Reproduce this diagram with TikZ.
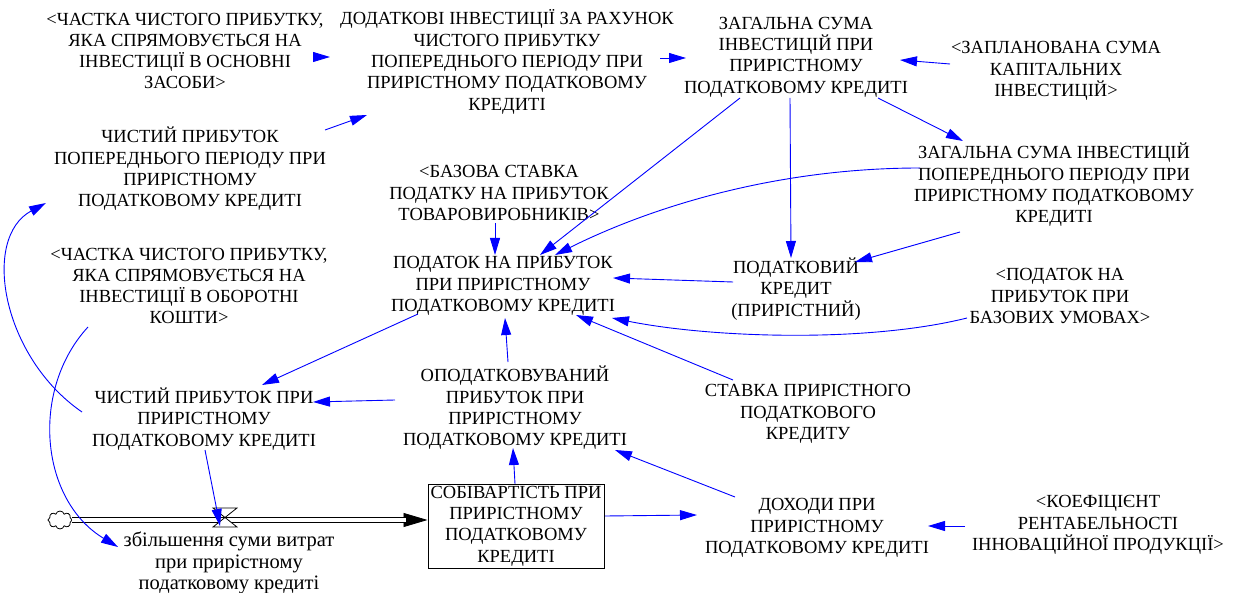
\documentclass[tikz,border=0pt]{standalone}
\usepackage{fontspec}
\setmainfont{Liberation Serif}
\newfontfamily\vensimfont{Liberation Serif}
\usepackage{tikz}
\usetikzlibrary{arrows.meta,shapes.symbols}

\begin{document}
\begin{tikzpicture}[x=1pt,y=-1pt,
  var/.style={align=center,inner sep=1pt,font=\vensimfont\fontsize{18.5}{21.3}\selectfont},
  link/.style={draw=blue,line width=0.9pt,-{Triangle[length=17pt,width=10pt]}},
  pipe/.style={double,double distance=3.5pt,line width=1pt}]
\useasboundingbox[fill=white] (0,0) rectangle (1239,593);

\node[var] (chastka_os) at (185,51) {<ЧАСТКА ЧИСТОГО ПРИБУТКУ,\\ЯКА СПРЯМОВУЄТЬСЯ НА\\ІНВЕСТИЦІЇ В ОСНОВНІ\\ЗАСОБИ>};
\node[var] (dodatkovi) at (507,62) {ДОДАТКОВІ ІНВЕСТИЦІЇ ЗА РАХУНОК\\ЧИСТОГО ПРИБУТКУ\\ПОПЕРЕДНЬОГО ПЕРІОДУ ПРИ\\ПРИРІСТНОМУ ПОДАТКОВОМУ\\КРЕДИТІ};
\node[var] (zahalna) at (796,57) {ЗАГАЛЬНА СУМА\\ІНВЕСТИЦІЙ ПРИ\\ПРИРІСТНОМУ\\ПОДАТКОВОМУ КРЕДИТІ};
\node[var] (zaplan) at (1056,71) {<ЗАПЛАНОВАНА СУМА\\КАПІТАЛЬНИХ\\ІНВЕСТИЦІЙ>};
\node[var] (chystyi_pop) at (190,169) {ЧИСТИЙ ПРИБУТОК\\ПОПЕРЕДНЬОГО ПЕРІОДУ ПРИ\\ПРИРІСТНОМУ\\ПОДАТКОВОМУ КРЕДИТІ};
\node[var] (zahalna_pop) at (1054,185) {ЗАГАЛЬНА СУМА ІНВЕСТИЦІЙ\\ПОПЕРЕДНЬОГО ПЕРІОДУ ПРИ\\ПРИРІСТНОМУ ПОДАТКОВОМУ\\КРЕДИТІ};
\node[var] (bazova) at (499,193) {<БАЗОВА СТАВКА\\ПОДАТКУ НА ПРИБУТОК\\ТОВАРОВИРОБНИКІВ>};
\node[var] (podatok) at (503,286) {ПОДАТОК НА ПРИБУТОК\\ПРИ ПРИРІСТНОМУ\\ПОДАТКОВОМУ КРЕДИТІ};
\node[var] (kredyt) at (796,289) {ПОДАТКОВИЙ\\КРЕДИТ\\(ПРИРІСТНИЙ)};
\node[var] (podatok_baz) at (1060,296) {<ПОДАТОК НА\\ПРИБУТОК ПРИ\\БАЗОВИХ УМОВАХ>};
\node[var] (chastka_ob) at (189,286) {<ЧАСТКА ЧИСТОГО ПРИБУТКУ,\\ЯКА СПРЯМОВУЄТЬСЯ НА\\ІНВЕСТИЦІЇ В ОБОРОТНІ\\КОШТИ>};
\node[var] (opodatk) at (515,408) {ОПОДАТКОВУВАНИЙ\\ПРИБУТОК ПРИ\\ПРИРІСТНОМУ\\ПОДАТКОВОМУ КРЕДИТІ};
\node[var] (stavka) at (808,414) {СТАВКА ПРИРІСТНОГО\\ПОДАТКОВОГО\\КРЕДИТУ};
\node[var] (chystyi) at (204,419) {ЧИСТИЙ ПРИБУТОК ПРИ\\ПРИРІСТНОМУ\\ПОДАТКОВОМУ КРЕДИТІ};
\node[var,draw,line width=1pt,minimum width=176pt,minimum height=84pt] (stock) at (516,526) {СОБІВАРТІСТЬ ПРИ\\ПРИРІСТНОМУ\\ПОДАТКОВОМУ\\КРЕДИТІ};
\node[var] (dokhody) at (817,528) {ДОХОДИ ПРИ\\ПРИРІСТНОМУ\\ПОДАТКОВОМУ КРЕДИТІ};
\node[var] (koef) at (1098,525) {<КОЕФІЦІЄНТ\\РЕНТАБЕЛЬНОСТІ\\ІННОВАЦІЙНОЇ ПРОДУКЦІЇ>};

\node[cloud,draw,cloud puffs=8,aspect=1.3,minimum width=24pt,minimum height=18pt,inner sep=0pt,line width=0.8pt] (cloud) at (60,520) {};
\node[coordinate] (valve) at (225,518) {};
\node[var,font=\vensimfont\fontsize{20.5}{21.5}\selectfont] (flow) at (229,563) {збільшення суми витрат\\при прирістному\\податковому кредиті};

\draw[line width=0.8pt,-{Triangle[length=24pt,width=14pt]}] (cloud.east) -- (cloud.east -| stock.west);
\draw[pipe,shorten >=22pt] (cloud.east) -- (cloud.east -| stock.west);
\draw[line width=0.8pt,fill=white] ([shift={(-12,-10)}]valve) -- ([shift={(12,-10)}]valve) -- ([shift={(-12,9)}]valve) -- ([shift={(12,9)}]valve) -- cycle;

\draw[link] ([shift={(128,6)}]chastka_os.center) -- ([shift={(-177,-5)}]dodatkovi.center);
\draw[link] ([shift={(135,-39)}]chystyi_pop.center) -- ([shift={(-140,53)}]dodatkovi.center);
\draw[link] ([shift={(153,-4)}]dodatkovi.center) -- ([shift={(-110,1)}]zahalna.center);
\draw[link] ([shift={(-106,-7)}]zaplan.center) -- ([shift={(104,3)}]zahalna.center);
\draw[link] ([shift={(82,41)}]zahalna.center) -- ([shift={(-91,-44)}]zahalna_pop.center);
\draw[link] ([shift={(-56,41)}]zahalna.center) -- ([shift={(37,-31)}]podatok.center);
\draw[link] ([shift={(-6,41)}]zahalna.center) -- ([shift={(-5,-31)}]kredyt.center);
\draw[link] ([shift={(-134,-17)}]zahalna_pop.center) .. controls +(-150,0) and +(90,-45) .. ([shift={(52,-31)}]podatok.center);
\draw[link] ([shift={(-94,47)}]zahalna_pop.center) -- ([shift={(59,-27)}]kredyt.center);
\draw[link] ([shift={(-63,-7)}]kredyt.center) -- ([shift={(110,-8)}]podatok.center);
\draw[link] ([shift={(-93,22)}]podatok_baz.center) .. controls +(-100,25) and +(100,20) .. ([shift={(109,32)}]podatok.center);
\draw[link] ([shift={(-75,-34)}]stavka.center) -- ([shift={(73,29)}]podatok.center);
\draw[link] ([shift={(-4,30)}]bazova.center) -- ([shift={(-8,-31)}]podatok.center);
\draw[link] ([shift={(-7,-46)}]opodatk.center) -- ([shift={(2,32)}]podatok.center);
\draw[link] ([shift={(-85,28)}]podatok.center) -- ([shift={(58,-34)}]chystyi.center);
\draw[link] ([shift={(-120,-8)}]opodatk.center) -- ([shift={(109,-17)}]chystyi.center);
\draw[link] ([shift={(-122,-7)}]chystyi.center) .. controls +(-80,-55) and +(-65,35) .. ([shift={(-144,34)}]chystyi_pop.center);
\draw[link] ([shift={(-101,41)}]chastka_ob.center) .. controls +(-58,63) and +(-78,-47) .. ([shift={(-111,-16)}]flow.center);
\draw[link] ([shift={(1,31)}]chystyi.center) -- ([shift={(-5,8)}]valve);
\draw[link] ([shift={(-1,-42)}]stock.center) -- ([shift={(-2,40)}]opodatk.center);
\draw[link] ([shift={(89,-10)}]stock.center) -- ([shift={(-120,-13)}]dokhody.center);
\draw[link] ([shift={(-82,-31)}]dokhody.center) -- ([shift={(100,42)}]opodatk.center);
\draw[link] ([shift={(-133,1)}]koef.center) -- ([shift={(111,-2)}]dokhody.center);
\end{tikzpicture}
\end{document}
